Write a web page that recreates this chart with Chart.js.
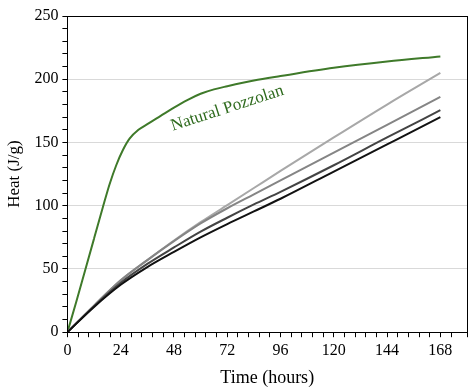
<!DOCTYPE html>
<html>
<head>
<meta charset="utf-8">
<script src="https://cdn.jsdelivr.net/npm/chart.js@4"></script>
<style>
  html, body { margin: 0; padding: 0; background: #fff; }
  #wrap { width: 472px; height: 389px; }
</style>
</head>
<body>
<div id="wrap"><canvas id="c" width="472" height="389"></canvas></div>
<script>
// ---- data ----
const greenTimes = [0, 4, 8, 12, 16, 19, 22, 25, 28, 32, 36, 42, 48, 54, 60, 66, 72, 84, 96, 120, 144, 168];
const naturalPozzolan = [0, 24, 49, 74, 99, 117, 132, 144, 153, 160, 164.5, 171, 177.5, 183.5, 188.5, 192, 194.5, 199, 202.5, 209, 214, 218];

const grayTimes = [0, 12, 24, 36, 48, 60, 72, 84, 96, 120, 144, 168];
const seriesLight  = [0, 21, 41, 57, 72.5, 87, 100.5, 114, 127.5, 154, 180, 205];
const seriesMedium = [0, 21, 41, 57, 72, 86, 98, 109, 120, 142, 164, 186];
const seriesDark   = [0, 20.5, 39, 54, 67, 79.5, 90.5, 101, 111, 132, 154, 175.5];
const seriesBlack  = [0, 20, 37.5, 51.5, 63.5, 75, 85.5, 95.5, 105.5, 127, 148.5, 170];

const xMajorLabels = [0, 24, 48, 72, 96, 120, 144, 168];
const yMajorLabels = [0, 50, 100, 150, 200, 250];

const annotationText = 'Natural Pozzolan';
const annotationAt = { x: 72, y: 177 };

const toPoints = (xs, ys) => xs.map((x, i) => ({ x: x, y: ys[i] }));

const serif = "'Liberation Serif', 'Times New Roman', serif";

const framePlugin = {
  id: 'frame',
  afterDraw(chart) {
    const { ctx, chartArea: a, scales } = chart;
    ctx.save();
    ctx.strokeStyle = '#000';
    ctx.lineWidth = 1;
    ctx.strokeRect(Math.round(a.left) + 0.5, Math.round(a.top) + 0.5,
                   Math.round(a.right - a.left), Math.round(a.bottom - a.top));
    // annotation
    const px = scales.x.getPixelForValue(annotationAt.x);
    const py = scales.y.getPixelForValue(annotationAt.y);
    ctx.translate(px, py);
    ctx.rotate(-18 * Math.PI / 180);
    ctx.fillStyle = '#2f6b1e';
    ctx.font = "17px " + serif;
    ctx.textAlign = 'center';
    ctx.textBaseline = 'middle';
    ctx.fillText(annotationText, 0, 0);
    ctx.restore();
  }
};

const lineDs = (label, data, color) => ({
  label, data, borderColor: color, backgroundColor: color,
  borderWidth: 2, pointRadius: 0, cubicInterpolationMode: 'monotone', fill: false
});

new Chart(document.getElementById('c'), {
  type: 'line',
  data: {
    datasets: [
      lineDs('Black', toPoints(grayTimes, seriesBlack), '#111111'),
      lineDs('Dark', toPoints(grayTimes, seriesDark), '#444444'),
      lineDs('Medium', toPoints(grayTimes, seriesMedium), '#858585'),
      lineDs('Light', toPoints(grayTimes, seriesLight), '#a8a8a8'),
      lineDs(annotationText, toPoints(greenTimes, naturalPozzolan), '#3f7a2a')
    ]
  },
  options: {
    responsive: false,
    animation: false,
    devicePixelRatio: 1,
    layout: { padding: { top: 16, right: 5, left: 4, bottom: 0 } },
    plugins: { legend: { display: false }, tooltip: { enabled: false } },
    scales: {
      x: {
        type: 'linear', min: 0, max: 180,
        ticks: {
          stepSize: 4.8, autoSkip: false, maxRotation: 0, color: '#000',
          font: { family: serif, size: 16 }, padding: 4,
          callback: v => xMajorLabels.includes(v) ? String(v) : ''
        },
        grid: { drawOnChartArea: false, drawTicks: true, tickLength: 5, color: '#000', tickColor: '#000' },
        border: { display: true, color: '#000', width: 1 },
        title: { display: true, text: 'Time (hours)', color: '#000', font: { family: serif, size: 18 }, padding: { top: 3, bottom: 0 } }
      },
      y: {
        min: 0, max: 250,
        ticks: {
          stepSize: 10, autoSkip: false, color: '#000',
          font: { family: serif, size: 16 }, padding: 4,
          callback: v => yMajorLabels.includes(v) ? String(v) : ''
        },
        grid: {
          drawTicks: true, tickLength: 5, tickColor: '#000',
          color: ctx => (ctx.tick && ctx.tick.value % 50 === 0) ? '#d9d9d9' : 'rgba(0,0,0,0)'
        },
        border: { display: true, color: '#000', width: 1 },
        title: { display: true, text: 'Heat (J/g)', color: '#000', font: { family: serif, size: 17 }, padding: { top: 0, bottom: 6 } }
      }
    }
  },
  plugins: [framePlugin]
});
</script>
</body>
</html>
